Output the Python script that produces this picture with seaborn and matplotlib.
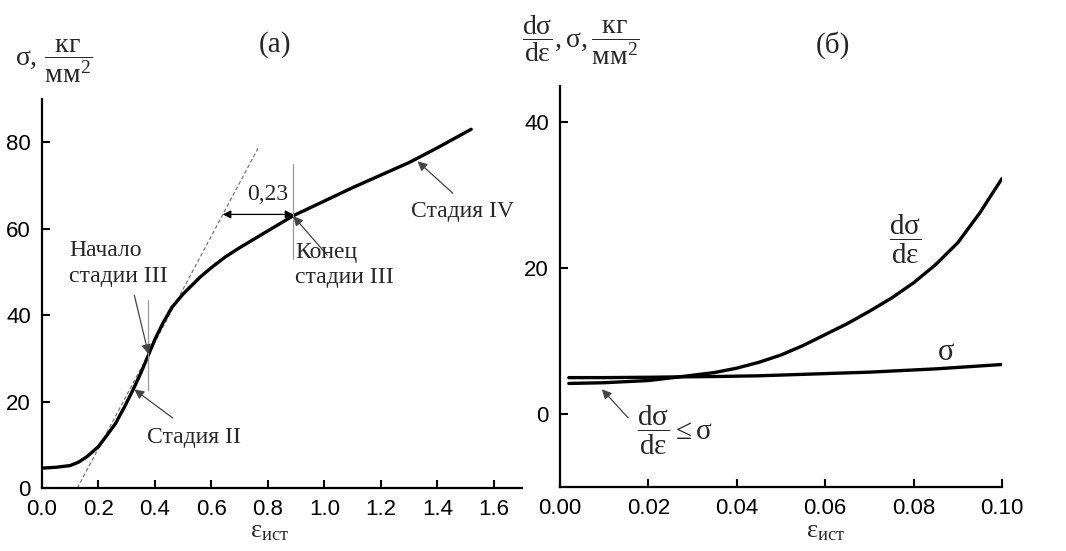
import numpy as np
import pandas as pd
import matplotlib
matplotlib.use("Agg")
import matplotlib.pyplot as plt
import seaborn as sns

# panel (a): true stress-strain curve
eps_a = [0.0, 0.05, 0.10, 0.13, 0.16, 0.20, 0.23, 0.26, 0.29, 0.32, 0.35,
         0.377, 0.40, 0.427, 0.46, 0.50, 0.56, 0.60, 0.65, 0.70, 0.80, 0.89,
         1.00, 1.10, 1.20, 1.30, 1.40, 1.52]
sig_a = [4.6, 4.8, 5.2, 6.0, 7.3, 9.6, 12.2, 14.9, 18.5, 22.4, 26.6,
         30.8, 34.4, 38.0, 41.8, 44.9, 48.8, 51.0, 53.5, 55.6, 59.5, 63.0,
         66.4, 69.5, 72.4, 75.3, 78.7, 83.0]

# tangent (dashed) line of stage II
tan_eps = [0.125, 0.765]
tan_sig = [0.0, 78.6]

# panel (b): dsigma/deps and sigma
eps_b = [0.002, 0.01, 0.02, 0.027, 0.035, 0.04, 0.045, 0.05, 0.055, 0.06,
         0.065, 0.07, 0.075, 0.08, 0.085, 0.09, 0.095, 0.10]
dsig_b = [4.2, 4.3, 4.6, 5.1, 5.7, 6.3, 7.1, 8.1, 9.4, 10.9,
          12.4, 14.1, 15.9, 18.0, 20.5, 23.5, 27.6, 32.3]
sig_b = [5.0, 5.0, 5.05, 5.1, 5.15, 5.2, 5.25, 5.35, 5.45, 5.55,
         5.65, 5.75, 5.9, 6.05, 6.2, 6.4, 6.6, 6.8]

xticks_a = [0.0, 0.2, 0.4, 0.6, 0.8, 1.0, 1.2, 1.4, 1.6]
yticks_a = [0, 20, 40, 60, 80]
xticks_b = [0.00, 0.02, 0.04, 0.06, 0.08, 0.10]
yticks_b = [0, 20, 40]

sns.set_theme(style="ticks")
plt.rcParams["font.family"] = ["Liberation Serif", "DejaVu Serif"]
plt.rcParams["mathtext.fontset"] = "custom"
plt.rcParams["mathtext.rm"] = "Liberation Serif"
plt.rcParams["mathtext.it"] = "Liberation Serif"
plt.rcParams["mathtext.bf"] = "Liberation Serif:bold"

fig = plt.figure(figsize=(10.66, 5.51), dpi=100)
axa = fig.add_axes([0.0394, 0.1143, 0.4503, 0.706])
axb = fig.add_axes([0.5253, 0.1162, 0.4146, 0.7277])

df_a = pd.DataFrame({"eps": eps_a, "sig": sig_a})
df_b = pd.DataFrame({"eps": eps_b, "dsig": dsig_b, "sig": sig_b})

sns.lineplot(x=tan_eps, y=tan_sig, ax=axa, color="#777777", lw=0.9,
             linestyle=(0, (3, 2)))
sns.lineplot(data=df_a, x="eps", y="sig", ax=axa, color="black", lw=2.4)
sns.lineplot(data=df_b, x="eps", y="dsig", ax=axb, color="black", lw=2.4)
sns.lineplot(data=df_b, x="eps", y="sig", ax=axb, color="black", lw=2.4)

for ax, xt, yt, xl, yl, fmt in [(axa, xticks_a, yticks_a, (0, 1.7), (0, 90), "{:.1f}"),
                                (axb, xticks_b, yticks_b, (0, 0.1), (-10, 45), "{:.2f}")]:
    ax.set_xlim(*xl)
    ax.set_ylim(*yl)
    ax.set_xticks(xt)
    ax.set_yticks(yt)
    ax.set_xticklabels([fmt.format(v) for v in xt])
    ax.set_xlabel("")
    ax.set_ylabel("")
    sns.despine(ax=ax)
    for s in ["left", "bottom"]:
        ax.spines[s].set_linewidth(1.6)
        ax.spines[s].set_color("black")
    ax.tick_params(direction="in", length=6, width=1.5, colors="black", pad=8)
    for lab in ax.get_xticklabels() + ax.get_yticklabels():
        lab.set_fontfamily("Liberation Sans")
        lab.set_fontsize(16)

fs = 17
arrow = dict(arrowstyle="-|>", color="#444444", lw=0.9, mutation_scale=14,
             shrinkA=0, shrinkB=0)

# panel (a) annotations
axa.plot([0.377, 0.377], [22.6, 43.5], color="#999999", lw=0.9)
axa.plot([0.89, 0.89], [53.0, 75.0], color="#999999", lw=0.9)
axa.annotate("", xy=(0.377, 31.0), xytext=(0.327, 44.6), arrowprops=arrow)
axa.annotate("", xy=(0.327, 22.8), xytext=(0.463, 16.2), arrowprops=arrow)
axa.annotate("", xy=(0.89, 62.9), xytext=(1.01, 53.9), arrowprops=arrow)
axa.annotate("", xy=(1.33, 75.6), xytext=(1.455, 68.2), arrowprops=arrow)
axa.annotate("", xy=(0.64, 63.3), xytext=(0.89, 63.3),
             arrowprops=dict(arrowstyle="<|-|>", color="black", lw=0.9,
                             mutation_scale=12, shrinkA=0, shrinkB=0))
axa.text(0.096, 52.0, "Начало\nстадии III", fontsize=fs, ha="left",
         va="center", linespacing=1.3)
axa.text(0.54, 11.8, "Стадия II", fontsize=fs, ha="center", va="center")
axa.text(0.897, 51.6, "Конец\nстадии III", fontsize=fs, ha="left",
         va="center", linespacing=1.2)
axa.text(1.306, 64.0, "Стадия IV", fontsize=fs, ha="left", va="center")
axa.text(0.80, 68.0, "0,23", fontsize=fs, ha="center", va="center")
axa.text(0.485, 1.139, "(а)", fontsize=21, ha="center", va="center",
         transform=axa.transAxes)
axa.text(0.475, -0.113, r"$\mathrm{ε}_{\mathrm{ист}}$", fontsize=19,
         ha="center", va="center", transform=axa.transAxes)

# panel (b) annotations
axb.annotate("", xy=(0.0095, 3.4), xytext=(0.0154, -0.5), arrowprops=arrow)
axb.text(0.0174, -2.2, r"$\dfrac{\mathrm{dσ}}{\mathrm{dε}}\leq\mathrm{σ}$",
         fontsize=21, ha="left", va="center")
axb.text(0.078, 23.9, r"$\dfrac{\mathrm{dσ}}{\mathrm{dε}}$", fontsize=21,
         ha="center", va="center")
axb.text(0.0873, 8.5, r"$\mathrm{σ}$", fontsize=22, ha="center",
         va="center")
axb.text(0.618, 1.102, "(б)", fontsize=21, ha="center", va="center",
         transform=axb.transAxes)
axb.text(0.602, -0.112, r"$\mathrm{ε}_{\mathrm{ист}}$", fontsize=19,
         ha="center", va="center", transform=axb.transAxes)

# axis titles as fractions
fig.text(0.014, 0.889, r"$\mathrm{σ},\,\dfrac{\mathrm{кг}}{\mathrm{мм}^2}$",
         fontsize=20, ha="left", va="center")
fig.text(0.490, 0.927,
         r"$\dfrac{\mathrm{dσ}}{\mathrm{dε}},\mathrm{σ},\dfrac{\mathrm{кг}}{\mathrm{мм}^2}$",
         fontsize=20, ha="left", va="center")

fig.savefig("out.png", dpi=100, facecolor="white")
